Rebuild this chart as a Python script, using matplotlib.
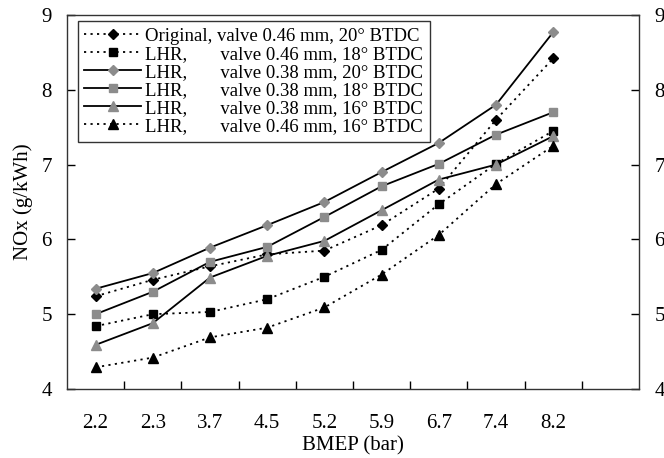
import matplotlib
matplotlib.use("Agg")
import matplotlib.pyplot as plt
import numpy as np

plt.rcParams['font.family'] = ['Liberation Serif', 'DejaVu Serif']

bmep = ["2.2", "2.3", "3.7", "4.5", "5.2", "5.9", "6.7", "7.4", "8.2"]

orig_046_20 = [5.24, 5.46, 5.64, 5.80, 5.85, 6.19, 6.68, 7.60, 8.42]
lhr_046_18 = [4.84, 5.00, 5.03, 5.20, 5.50, 5.86, 6.47, 7.01, 7.45]
lhr_038_20 = [5.34, 5.55, 5.89, 6.19, 6.50, 6.90, 7.29, 7.80, 8.77]
lhr_038_18 = [5.00, 5.30, 5.70, 5.90, 6.30, 6.71, 7.01, 7.40, 7.70]
lhr_038_16 = [4.59, 4.88, 5.49, 5.78, 5.98, 6.39, 6.80, 7.00, 7.38]
lhr_046_16 = [4.29, 4.42, 4.69, 4.82, 5.09, 5.53, 6.06, 6.74, 7.25]

labels = [
    "Original, valve 0.46 mm, 20° BTDC",
    "LHR,       valve 0.46 mm, 18° BTDC",
    "LHR,       valve 0.38 mm, 20° BTDC",
    "LHR,       valve 0.38 mm, 18° BTDC",
    "LHR,       valve 0.38 mm, 16° BTDC",
    "LHR,       valve 0.46 mm, 16° BTDC",
]

gray = "#8c8c8c"
dotted = (0, (1.2, 2.4))
styles = [
    dict(ls=dotted, color="black", marker="D", ms=5.5, mfc="black", mec="black"),
    dict(ls=dotted, color="black", marker="s", ms=6, mfc="black", mec="black"),
    dict(ls="-", color="black", marker="D", ms=5.5, mfc=gray, mec=gray),
    dict(ls="-", color="black", marker="s", ms=6, mfc=gray, mec=gray),
    dict(ls="-", color="black", marker="^", ms=7, mfc=gray, mec=gray),
    dict(ls=dotted, color="black", marker="^", ms=7, mfc="black", mec="black"),
]
series = [orig_046_20, lhr_046_18, lhr_038_20, lhr_038_18, lhr_038_16, lhr_046_16]

fig = plt.figure(figsize=(6.64, 4.58), dpi=100)
ax = fig.add_axes([67 / 664, 1 - 389 / 458, 572 / 664, 374 / 458])

x = np.arange(len(bmep))
for y, st, lab in zip(series, styles, labels):
    ax.plot(x, y, lw=1.3, label=lab, **st)

ax.set_xlim(-0.5, len(bmep) + 0.5)
ax.set_ylim(4, 9)

# category boundaries carry the tick marks, centres carry the labels
ax.set_xticks(np.arange(len(bmep)) + 0.5)
ax.set_xticklabels([])
ax.set_xticks(x, minor=True)
ax.set_xticklabels(bmep, minor=True, fontsize=15)
ax.tick_params(axis="x", which="major", direction="in", length=6, width=1)
ax.tick_params(axis="x", which="minor", length=0, pad=18)

ax.set_yticks([4, 5, 6, 7, 8, 9])
ax.tick_params(axis="y", which="major", direction="in", length=6, width=1,
               labelsize=15, pad=11, right=True, labelright=True)

for sp in ax.spines.values():
    sp.set_linewidth(1.0)
    sp.set_color("#333333")

ax.set_xlabel("BMEP (bar)", fontsize=15, labelpad=2)
ax.set_ylabel("NOx (g/kWh)", fontsize=15, labelpad=6)

leg = ax.legend(loc="upper left", bbox_to_anchor=(0.019, 0.984), fontsize=13.5,
                frameon=True, fancybox=False, handlelength=3.0, handletextpad=0.25,
                labelspacing=0.05, borderpad=0.35, borderaxespad=0)
leg.get_frame().set_edgecolor("black")
leg.get_frame().set_linewidth(1.0)

fig.savefig("out.png", dpi=100)
